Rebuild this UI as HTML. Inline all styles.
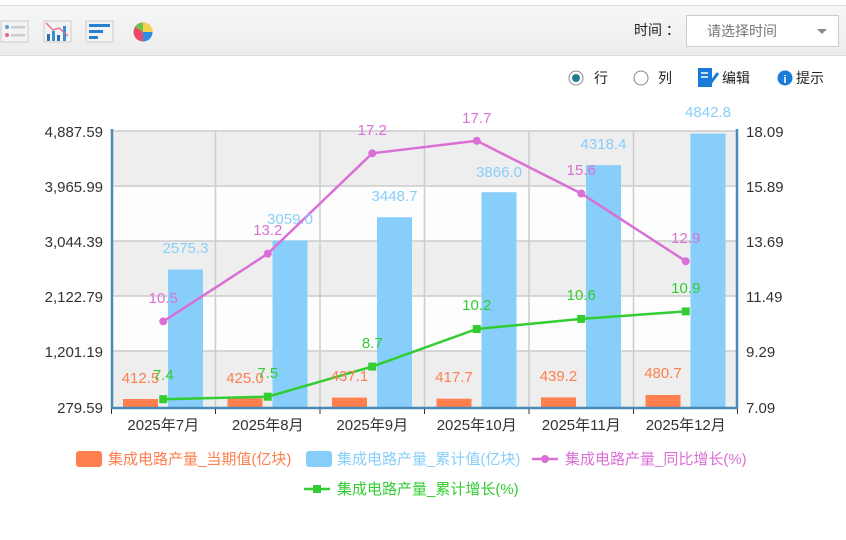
<!DOCTYPE html>
<html><head><meta charset="utf-8"><style>
body{margin:0;width:846px;height:540px;background:#fff;overflow:hidden;font-family:"Liberation Sans","Noto Sans CJK SC",sans-serif;}
</style></head><body>
<svg width="846" height="540" xmlns="http://www.w3.org/2000/svg" style="position:absolute;left:0;top:0;font-family:'Liberation Sans','Noto Sans CJK SC',sans-serif">
<defs><linearGradient id="tb" x1="0" y1="0" x2="0" y2="1"><stop offset="0" stop-color="#f7f7f7"/><stop offset="1" stop-color="#ececec"/></linearGradient></defs>
<rect x="0" y="5" width="846" height="50" fill="url(#tb)"/>
<line x1="0" y1="5.5" x2="846" y2="5.5" stroke="#ddd"/>
<line x1="0" y1="55.5" x2="846" y2="55.5" stroke="#ddd"/>
<rect x="1" y="21" width="27" height="21" fill="#f3f3f3" stroke="#ccc"/>
<circle cx="7" cy="27" r="2" fill="#5b9bd5"/><rect x="11" y="26" width="14" height="2.5" fill="#ccc"/>
<circle cx="7" cy="35" r="2" fill="#e86a8a"/><rect x="11" y="34" width="14" height="2.5" fill="#ccc"/>
<rect x="44" y="21" width="27" height="21" fill="#f3f3f3" stroke="#ccc"/>
<rect x="47" y="34" width="3" height="7" fill="#2a6fb0"/><rect x="52" y="31" width="3" height="10" fill="#3a8fd0"/><rect x="57" y="35" width="3" height="6" fill="#2a6fb0"/><rect x="63" y="26" width="3" height="15" fill="#3a8fd0"/>
<polyline points="46,23 53,30 59,28 68,36" fill="none" stroke="#e86a8a" stroke-width="1.3"/>
<rect x="86" y="21" width="27" height="21" fill="#f3f3f3" stroke="#ccc"/>
<rect x="89" y="24" width="21" height="3" fill="#2a7fd0"/><rect x="89" y="30" width="14" height="3" fill="#2a7fd0"/><rect x="89" y="36" width="9" height="3" fill="#2a7fd0"/>
<circle cx="143" cy="32" r="9.5" fill="#e84a6a"/>
<path d="M143 32 L143 22.5 A9.5 9.5 0 0 1 152.5 32 Z" fill="#f4d34a"/>
<path d="M143 32 L152.5 32 A9.5 9.5 0 0 1 143 41.5 Z" fill="#2a8fe0"/>
<path d="M143 32 L143 22.5 A9.5 9.5 0 0 0 135 27 Z" fill="#6cc24a"/>
<text x="634" y="35" font-size="14" fill="#222">时间 ：</text>
<rect x="686.5" y="15.5" width="152" height="31" fill="#fff" stroke="#ccc"/>
<text x="707" y="36" font-size="14" fill="#777">请选择时间</text>
<path d="M817 29 L827 29 L822 34 Z" fill="#888"/>
<circle cx="576" cy="78" r="7" fill="#fff" stroke="#888"/><circle cx="576" cy="78" r="4" fill="#2a7a90"/>
<text x="594" y="83" font-size="14" fill="#222">行</text>
<circle cx="641" cy="78" r="7" fill="#fff" stroke="#888"/>
<text x="658" y="83" font-size="14" fill="#222">列</text>
<rect x="698" y="68" width="14" height="19" fill="#1a7ad8"/>
<line x1="701" y1="73" x2="708" y2="73" stroke="#fff" stroke-width="1.5"/><line x1="701" y1="77" x2="708" y2="77" stroke="#fff" stroke-width="1.5"/>
<line x1="709" y1="85" x2="718" y2="73" stroke="#1a7ad8" stroke-width="3"/>
<text x="722" y="83" font-size="14" fill="#222">编辑</text>
<circle cx="785" cy="78" r="7.5" fill="#1a7ad8"/><text x="785" y="83" font-size="11" font-weight="bold" fill="#fff" text-anchor="middle">i</text>
<text x="796" y="83" font-size="14" fill="#222">提示</text>
<rect x="111" y="131" width="627" height="55" fill="#eeeeee"/>
<rect x="111" y="186" width="627" height="55" fill="#fdfdfd"/>
<rect x="111" y="241" width="627" height="55" fill="#eeeeee"/>
<rect x="111" y="296" width="627" height="55" fill="#fdfdfd"/>
<rect x="111" y="351" width="627" height="56" fill="#eeeeee"/>
<g stroke="#cccccc" stroke-width="1.5">
<line x1="111" y1="131" x2="738" y2="131"/><line x1="111" y1="186" x2="738" y2="186"/><line x1="111" y1="241" x2="738" y2="241"/><line x1="111" y1="296" x2="738" y2="296"/><line x1="111" y1="351" x2="738" y2="351"/>
<line x1="215.5" y1="131" x2="215.5" y2="407"/><line x1="320" y1="131" x2="320" y2="407"/><line x1="424.5" y1="131" x2="424.5" y2="407"/><line x1="529" y1="131" x2="529" y2="407"/><line x1="633.5" y1="131" x2="633.5" y2="407"/>
</g>
<g fill="#ff7f4f">
<rect x="123" y="399" width="35" height="8"/><rect x="227.5" y="398.3" width="35" height="8.7"/><rect x="332" y="397.6" width="35" height="9.4"/><rect x="436.5" y="398.7" width="35" height="8.3"/><rect x="541" y="397.4" width="35" height="9.6"/><rect x="645.5" y="395" width="35" height="12"/>
</g>
<g fill="#87cefa">
<rect x="168" y="269.5" width="35" height="137.5"/><rect x="272.5" y="240.5" width="35" height="166.5"/><rect x="377" y="217.2" width="35" height="189.8"/><rect x="481.5" y="192.2" width="35" height="214.8"/><rect x="586" y="165.1" width="35" height="241.9"/><rect x="690.5" y="133.7" width="35" height="273.3"/>
</g>
<line x1="112" y1="129" x2="112" y2="409" stroke="#4a8ab8" stroke-width="2.5"/>
<line x1="737" y1="129" x2="737" y2="409" stroke="#4a8ab8" stroke-width="2.5"/>
<line x1="111" y1="408" x2="738" y2="408" stroke="#4a8ab8" stroke-width="2.5"/>
<g stroke="#333" stroke-width="1"><line x1="111.5" y1="409" x2="111.5" y2="414"/><line x1="215.5" y1="409" x2="215.5" y2="414"/><line x1="320" y1="409" x2="320" y2="414"/><line x1="424.5" y1="409" x2="424.5" y2="414"/><line x1="529" y1="409" x2="529" y2="414"/><line x1="633.5" y1="409" x2="633.5" y2="414"/><line x1="737.5" y1="409" x2="737.5" y2="414"/></g>
<g font-size="15" fill="#333" text-anchor="end">
<text x="103" y="137">4,887.59</text><text x="103" y="192">3,965.99</text><text x="103" y="247">3,044.39</text><text x="103" y="302">2,122.79</text><text x="103" y="357">1,201.19</text><text x="103" y="413">279.59</text>
</g>
<g font-size="15" fill="#333">
<text x="746" y="137">18.09</text><text x="746" y="192">15.89</text><text x="746" y="247">13.69</text><text x="746" y="302">11.49</text><text x="746" y="357">9.29</text><text x="746" y="413">7.09</text>
</g>
<g font-size="15" fill="#333" text-anchor="middle">
<text x="163.25" y="430">2025年7月</text><text x="267.75" y="430">2025年8月</text><text x="372.25" y="430">2025年9月</text><text x="476.75" y="430">2025年10月</text><text x="581.25" y="430">2025年11月</text><text x="685.75" y="430">2025年12月</text>
</g>
<polyline points="163.25,321.4 267.75,253.7 372.25,153.3 476.75,140.8 581.25,193.5 685.75,261.2" fill="none" stroke="#da70d6" stroke-width="2.5"/>
<g fill="#da70d6"><circle cx="163.25" cy="321.4" r="4"/><circle cx="267.75" cy="253.7" r="4"/><circle cx="372.25" cy="153.3" r="4"/><circle cx="476.75" cy="140.8" r="4"/><circle cx="581.25" cy="193.5" r="4"/><circle cx="685.75" cy="261.2" r="4"/></g>
<polyline points="163.25,399.2 267.75,396.7 372.25,366.6 476.75,329 581.25,318.9 685.75,311.4" fill="none" stroke="#32cd32" stroke-width="2.5"/>
<g fill="#32cd32"><rect x="159.25" y="395.2" width="8" height="8"/><rect x="263.75" y="392.7" width="8" height="8"/><rect x="368.25" y="362.6" width="8" height="8"/><rect x="472.75" y="325" width="8" height="8"/><rect x="577.25" y="314.9" width="8" height="8"/><rect x="681.75" y="307.4" width="8" height="8"/></g>
<g font-size="15" fill="#87cefa" text-anchor="middle">
<text x="185.5" y="253">2575.3</text><text x="290" y="224">3059.0</text><text x="394.5" y="201">3448.7</text><text x="499" y="177">3866.0</text><text x="603.5" y="149">4318.4</text><text x="708" y="117">4842.8</text>
</g>
<g font-size="15" fill="#ff7f4f" text-anchor="middle">
<text x="140.5" y="383">412.5</text><text x="245" y="383">425.0</text><text x="349.5" y="381">437.1</text><text x="454" y="382">417.7</text><text x="558.5" y="381">439.2</text><text x="663" y="378">480.7</text>
</g>
<g font-size="15" fill="#da70d6" text-anchor="middle">
<text x="163.25" y="303">10.5</text><text x="267.75" y="235">13.2</text><text x="372.25" y="135">17.2</text><text x="476.75" y="123">17.7</text><text x="581.25" y="175">15.6</text><text x="685.75" y="243">12.9</text>
</g>
<g font-size="15" fill="#32cd32" text-anchor="middle">
<text x="163.25" y="380">7.4</text><text x="267.75" y="378">7.5</text><text x="372.25" y="348">8.7</text><text x="476.75" y="310">10.2</text><text x="581.25" y="300">10.6</text><text x="685.75" y="293">10.9</text>
</g>
<rect x="76" y="451" width="26" height="16" rx="3" fill="#ff7f4f"/>
<text x="108" y="464" font-size="15" fill="#ff7f4f">集成电路产量_当期值(亿块)</text>
<rect x="306" y="451" width="26" height="16" rx="3" fill="#87cefa"/>
<text x="337" y="464" font-size="15" fill="#87cefa">集成电路产量_累计值(亿块)</text>
<line x1="532" y1="459" x2="558" y2="459" stroke="#da70d6" stroke-width="2.5"/><circle cx="545" cy="459" r="4" fill="#da70d6"/>
<text x="565" y="464" font-size="15" fill="#da70d6">集成电路产量_同比增长(%)</text>
<line x1="304" y1="489" x2="330" y2="489" stroke="#32cd32" stroke-width="2.5"/><rect x="313" y="485" width="8" height="8" fill="#32cd32"/>
<text x="337" y="494" font-size="15" fill="#32cd32">集成电路产量_累计增长(%)</text>
</svg>
</body></html>
